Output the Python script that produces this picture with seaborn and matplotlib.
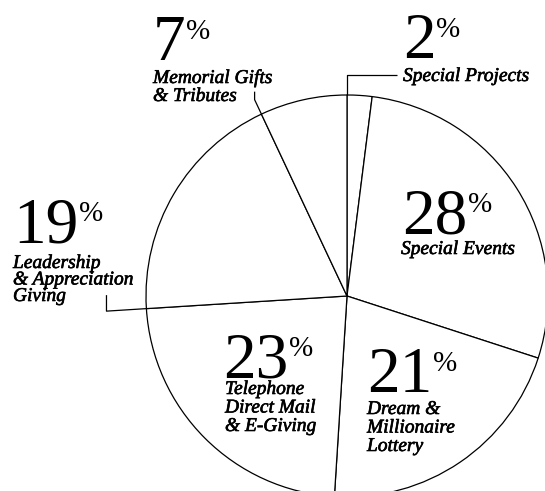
import matplotlib
matplotlib.use("Agg")
import matplotlib.pyplot as plt
import matplotlib.patheffects as pe
import seaborn as sns
import numpy as np

# ---- data ----
categories = ["Special Projects", "Special Events", "Dream & Millionaire Lottery",
              "Telephone Direct Mail & E-Giving", "Leadership & Appreciation Giving",
              "Memorial Gifts & Tributes"]
shares = [2, 28, 21, 23, 19, 7]
label_lines = [["Special Projects"],
               ["Special Events"],
               ["Dream &", "Millionaire", "Lottery"],
               ["Telephone", "Direct Mail", "& E-Giving"],
               ["Leadership", "& Appreciation", "Giving"],
               ["Memorial Gifts", "& Tributes"]]

# ---- layout (image pixel coords, y down) ----
W, H = 545, 491
CX, CY, R = 347, 296, 201
num_pos = [(403, 58), (402, 233), (367, 392), (223, 377), (13, 242), (153, 60)]
lab_pos = [(403, 81), (401, 254), (367, 414), (225, 394), (13, 268), (153, 83)]
lab_step = [18, 18, 18.5, 18.5, 16.5, 18]

sns.set_theme(style="white")
plt.rcParams["font.family"] = ["Liberation Serif", "DejaVu Serif"]

fig = plt.figure(figsize=(W / 100, H / 100), dpi=100)
ax = fig.add_axes([0, 0, 1, 1])


def Y(y):
    return H - y


ax.pie(shares, colors=["white"] * len(shares), startangle=90, counterclock=False,
       center=(CX, Y(CY)), radius=R,
       wedgeprops=dict(edgecolor="black", linewidth=0.9))
ax.set_xlim(0, W)
ax.set_ylim(0, H)
ax.set_aspect("auto")
ax.axis("off")

# boundary angles (clockwise from top)
cum = np.concatenate([[0], np.cumsum(shares)]) / sum(shares) * 360.0


def pt(angle_deg, r):
    a = np.deg2rad(angle_deg)
    return CX + r * np.sin(a), CY - r * np.cos(a)


lk = dict(color="black", linewidth=0.9, solid_capstyle="butt")
# Special Projects leader: boundary at 0 deg extended up, then right
x0, y0 = pt(cum[0], R)
x1, y1 = pt(cum[0], R + 20)
ax.plot([x0, x1, x1 + 50], [Y(y0), Y(y1), Y(y1)], **lk)
# Memorial leader: boundary between Leadership and Memorial
b = cum[5]
x0, y0 = pt(b, R)
x1, y1 = pt(b, R + 16)
ax.plot([x0, x1, x1], [Y(y0), Y(y1), Y(y1 - 8)], **lk)
# Leadership leader: boundary between Telephone and Leadership
b = cum[4]
x0, y0 = pt(b, R)
x1, y1 = pt(b, R + 40)
ax.plot([x0, x1, x1], [Y(y0), Y(y1), Y(y1 - 16)], **lk)

# ---- texts ----
bold_fx = [pe.withStroke(linewidth=0.45, foreground="black")]
for v, (nx, ny), (lx, ly), step, lines in zip(shares, num_pos, lab_pos, lab_step, label_lines):
    t = ax.text(nx, Y(ny), f"{v}", fontsize=47, ha="left", va="baseline", color="black")
    ax.annotate("%", xy=(1, 1), xycoords=t, xytext=(0.5, -3), textcoords="offset points",
                fontsize=21, ha="left", va="top", color="black")
    for i, line in enumerate(lines):
        ax.text(lx, Y(ly + i * step), line, fontsize=14, fontstyle="italic",
                ha="left", va="baseline", color="black", path_effects=bold_fx)

fig.savefig("out.png", dpi=100, facecolor="white")
